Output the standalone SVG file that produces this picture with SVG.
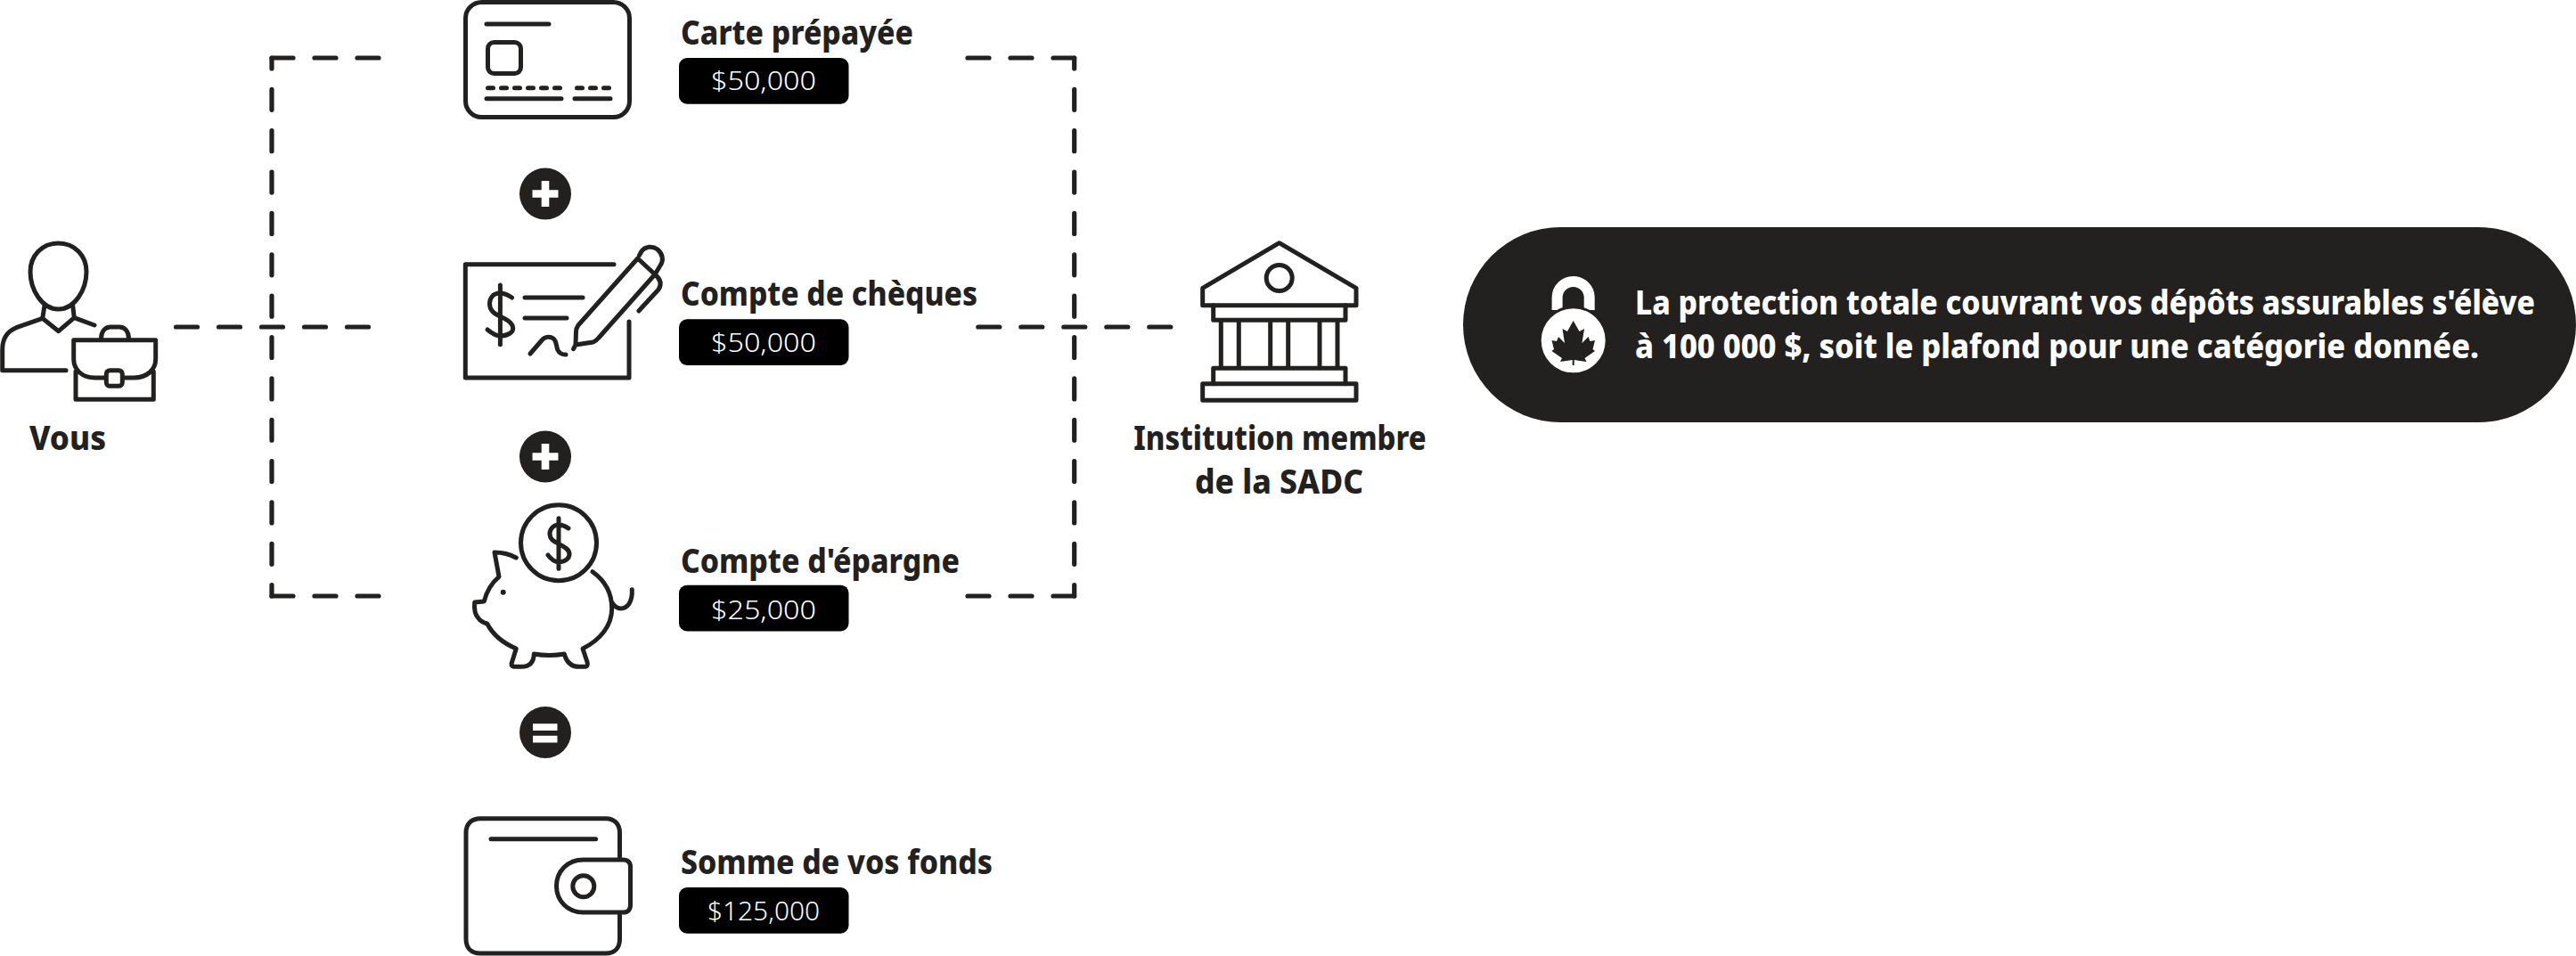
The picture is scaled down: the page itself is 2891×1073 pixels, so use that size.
<svg xmlns="http://www.w3.org/2000/svg" width="2891" height="1073" viewBox="0 0 2891 1073">
<style>
.ln{fill:none;stroke:#22211f;stroke-width:5;stroke-linecap:round;stroke-linejoin:round}
.dash{fill:none;stroke:#22211f;stroke-width:5.200;stroke-linecap:round;stroke-linejoin:round}
.h{stroke-dasharray:24 24}
.vd{stroke-dasharray:23 23.360;stroke-dashoffset:11}
.dots{stroke-dasharray:6 9}
.t{font-family:"Noto Sans","Liberation Sans",sans-serif;font-weight:800;font-size:38px;fill:#22211f}
.b{fill:#000}
.v{font-family:"Noto Sans","Liberation Sans",sans-serif;font-weight:300;font-size:30px;fill:#fff}
.w{font-family:"Noto Sans","Liberation Sans",sans-serif;font-weight:800;font-size:38px;fill:#fff}
.op{fill:#22211f}
</style>
<rect width="2891" height="1073" fill="#fff"/>
<g id="connectors">
<path class="dash h" d="M305,65 H429"/>
<path class="dash h" d="M305,669 H429"/>
<path class="dash vd" d="M305,65 V669"/>
<path class="dash h" d="M1086,65 H1205.700"/>
<path class="dash h" d="M1086,669 H1205.700"/>
<path class="dash vd" d="M1205.700,65 V669"/>
<path class="dash h" d="M197.500,367 H416"/>
<path class="dash h" d="M1097.800,367 H1314"/>
</g>
<g id="vous">
<path class="ln" d="M65.500,273 C84,273 97,287 97,305 C97,325 84,347 65.500,347 C47,347 34,325 34,305 C34,287 47,273 65.500,273 Z"/>
<path class="ln" d="M50,343 L47.700,357.300 L65.700,371.700 L83.300,356.700 L81.700,343 M83.300,356.700 L106,365 M47.700,357.300 L18.300,367.700 C8,372 2.700,380 2.700,392 V415.700 H74"/>
<path class="ln" d="M118,424 H106.700 C92,424 82.700,415 82.700,403 V381.700 H174.700 V403 C174.700,415 165,424 150,424 H138 M85,417 V448.300 H172.300 V417 M113.500,380 C113.500,372 118,367 124,367 H134 C140,367 144.500,372 144.500,380"/>
<rect class="ln" x="119.300" y="415.700" width="18" height="17.600" rx="4"/>
<text class="t" transform="translate(33,505) scale(.85,1)" textLength="101.200" lengthAdjust="spacingAndGlyphs">Vous</text>
</g>
<g id="carte">
<rect class="ln" x="522.500" y="2.500" width="184" height="129" rx="18"/>
<path class="ln" d="M546,27 H616 M546,110.700 H630 M645,110.700 H685"/>
<path class="ln dots" d="M547.500,98.700 H630 M647.500,98.700 H684"/>
<rect class="ln" x="547.500" y="47.500" width="37" height="35" rx="7"/>
<text class="t" transform="translate(764,50) scale(.85,1)" textLength="307" lengthAdjust="spacingAndGlyphs">Carte prépayée</text>
<rect class="b" x="762" y="65" width="190.500" height="51.700" rx="9"/>
<text class="v" x="798" y="101" textLength="118" lengthAdjust="spacingAndGlyphs">$50,000</text>
</g>
<g id="plus-1">
<circle class="op" cx="612" cy="217.500" r="29"/>
<path fill="#fff" d="M607.700,203 h8.600 v10.200 h10.200 v8.600 h-10.200 v10.200 h-8.600 v-10.200 h-10.200 v-8.600 h10.200 z"/>
</g>
<g id="cheques">
<path class="ln" d="M689,296.700 H522.300 V424 H706 V361"/>
<path class="ln" d="M561.400,320 V386.700 M574.500,334 C570,331 566,329 561,329 C553,329 549.500,335 549.500,341 C549.500,349 555,352 561,355 C569,359 575.700,362 575.700,369 C575.700,373 570,377 561,377 C556,377 552,374 547,370"/>
<path class="ln" d="M589,334 H654 M589,357 H636"/>
<path class="ln" d="M595,397 L608,382 C611,378 617,377 621,380 C625,383 624,389 626,393 C628,397 632,398 635,398"/>
<path class="ln" d="M643.600,391.700 L646,387 L646.500,372 C646.500,369 647.500,367 649,365 L715.700,290 L735,308 L672,379 C670,381.500 668,383 665.700,384 L646,387 M717.500,286.700 L720,282 C724,276.700 732,275.500 738,280 C744,285 745,293 741,298 L735,308 C741,313 743,319 739,325 L716.800,349"/>
<text class="t" transform="translate(764,343) scale(.85,1)" textLength="391.800" lengthAdjust="spacingAndGlyphs">Compte de chèques</text>
<rect class="b" x="762" y="358.300" width="190.500" height="51.700" rx="9"/>
<text class="v" x="798" y="395" textLength="118" lengthAdjust="spacingAndGlyphs">$50,000</text>
</g>
<g id="plus-2">
<circle class="op" cx="612" cy="512.500" r="29"/>
<path fill="#fff" d="M607.700,498 h8.600 v10.200 h10.200 v8.600 h-10.200 v10.200 h-8.600 v-10.200 h-10.200 v-8.600 h10.200 z"/>
</g>
<g id="epargne">
<circle class="ln" cx="627" cy="609.300" r="42.500"/>
<path class="ln" d="M627,581.700 V638.300 M638,593 C634,590 631,589 627,589 C621,589 617,594 617,599 C617,606 623,608 628,611 C634,614 639,617 639,622 C639,627 634,630.700 627,630.700 C622,630.700 618,627 615,623"/>
<path class="ln" d="M579.300,626 C572,622 564,620 555,620 L560,647.300 C552,654 546,664 543.300,675 L532.700,676 C532,683 533,690 537,694 C540,698 543,699 546.700,700 C553,712 565,722 579.300,728 L574,745 C574,747 575,748.300 578,748.300 H585 C594,748.300 599,744 599.300,734 C611,736 622,736 633.300,734 C636,744 642,748.300 650,748.300 H656.700 C659,748.300 660,746 659,743 L654,728 C674,718 686.700,702 686.700,683 C686.700,665 678,651 665,641.700 M686,675 C689,680 692,683 696.700,683 C704,683 710,676 709.300,661.700"/>
<circle class="op" cx="564.700" cy="664.700" r="3"/>
<text class="t" transform="translate(764,642.700) scale(.85,1)" textLength="368.200" lengthAdjust="spacingAndGlyphs">Compte d'épargne</text>
<rect class="b" x="762" y="656.700" width="190.500" height="51.700" rx="9"/>
<text class="v" x="798" y="695" textLength="118" lengthAdjust="spacingAndGlyphs">$25,000</text>
</g>
<g id="egal">
<circle class="op" cx="612" cy="822" r="29"/>
<path fill="#fff" d="M598,812.300 h27.500 v7.700 h-27.500 z M598,825.700 h27.500 v7.700 h-27.500 z"/>
</g>
<g id="somme">
<path class="ln" d="M695.500,962 V934.700 C695.500,925 689.500,918.700 680,918.700 H539 C529,918.700 523,925 523,934.700 V1054 C523,1064 529,1070 539,1070 H680 C689.500,1070 695.500,1064 695.500,1054 V1027"/>
<path class="ln" d="M551,941.700 H668.600"/>
<path class="ln" d="M654.500,965 H699.500 C704.500,965 707.500,968 707.500,973 V1016 C707.500,1021 704.500,1024 699.500,1024 H654.500 C637,1024 624.500,1011 624.500,994.500 C624.500,978 637,965 654.500,965 Z"/>
<circle class="ln" cx="654.800" cy="994.700" r="12"/>
<text class="t" transform="translate(764,981) scale(.85,1)" textLength="411.800" lengthAdjust="spacingAndGlyphs">Somme de vos fonds</text>
<rect class="b" x="762" y="996" width="190.500" height="51.700" rx="9"/>
<text class="v" x="794" y="1033" textLength="126" lengthAdjust="spacingAndGlyphs">$125,000</text>
</g>
<g id="institution">
<path class="ln" d="M1435.700,272.700 L1349.700,323.300 V342.700 H1522 V323.300 Z"/>
<circle class="ln" cx="1435.700" cy="312" r="14.500"/>
<path class="ln" d="M1361.700,342.700 V359.300 H1510 V342.700 M1370.300,359.300 V413.300 M1390.300,359.300 V413.300 M1425.700,359.300 V413.300 M1445.700,359.300 V413.300 M1481,359.300 V413.300 M1501,359.300 V413.300 M1361.700,430.700 V413.300 H1510 V430.700"/>
<rect class="ln" x="1349.700" y="430.700" width="172.300" height="18.600"/>
<text class="t" transform="translate(1272.300,505) scale(.85,1)" textLength="386.400" lengthAdjust="spacingAndGlyphs">Institution membre</text>
<text class="t" transform="translate(1341,554) scale(.85,1)" textLength="222.400" lengthAdjust="spacingAndGlyphs">de la SADC</text>
</g>
<g id="protection">
<rect class="op" x="1642" y="255" width="1249" height="219" rx="109.500"/>
<path fill="none" stroke="#fff" stroke-width="12" d="M1747.600,348 V334 A18,18 0 0 1 1783.700,334 V348"/>
<circle cx="1765.700" cy="382.300" r="37.500" fill="#fff" stroke="#22211f" stroke-width="3"/>
<path class="op" d="M1765.700,360 L1759,372 L1753.500,369 L1756,385 L1749,378 L1747,383 L1741.500,382 L1744,392 L1741.500,394 L1753,402 L1751,406 L1764.700,404 V410 H1766.700 V404 L1780.500,406 L1778.500,402 L1790,394 L1787.500,392 L1790,382 L1784.500,383 L1782.500,378 L1775.500,385 L1778,369 L1772.500,372 Z"/>
<text class="w" transform="translate(1835,353.300) scale(.85,1)" textLength="1188.200" lengthAdjust="spacingAndGlyphs">La protection totale couvrant vos dépôts assurables s'élève</text>
<text class="w" transform="translate(1835,401.700) scale(.85,1)" textLength="1114.100" lengthAdjust="spacingAndGlyphs">à 100 000 $, soit le plafond pour une catégorie donnée.</text>
</g>
</svg>
